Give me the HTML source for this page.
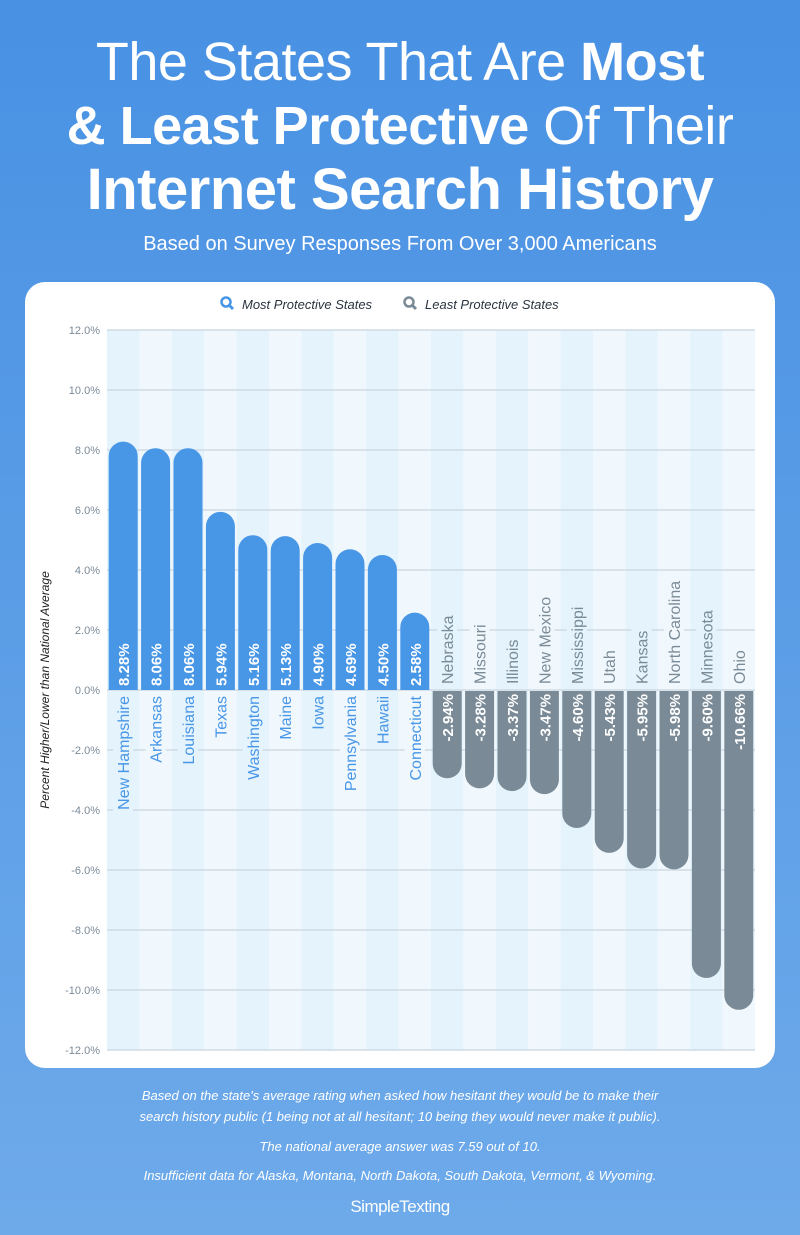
<!DOCTYPE html>
<html><head><meta charset="utf-8"><style>
body{margin:0;width:800px;height:1235px;overflow:hidden;background:linear-gradient(#4891e3,#6eaaea);font-family:"Liberation Sans",sans-serif;color:#fff;position:relative}
.t{position:absolute;left:0;width:800px;text-align:center}
h1{margin:0;font-weight:400;font-size:54px;line-height:64px;letter-spacing:-0.5px}
#card{position:absolute;left:25px;top:282px;width:750px;height:786px;background:#fff;border-radius:20px}
.foot{font-style:italic;font-size:13px;line-height:21px}
</style></head><body>
<div class="t" style="top:30px"><h1>The States That Are <b>Most</b><br><b>&amp; Least Protective</b> Of Their<br><b style="font-size:58px">Internet Search History</b></h1></div>
<div class="t" style="top:233px;font-size:20px">Based on Survey Responses From Over 3,000 Americans</div>
<div id="card"></div>
<svg id="chart" width="800" height="1235" style="position:absolute;left:0;top:0"></svg>
<div class="t foot" style="top:1085px">Based on the state's average rating when asked how hesitant they would be to make their<br>search history public (1 being not at all hesitant; 10 being they would never make it public).</div>
<div class="t foot" style="top:1136px">The national average answer was 7.59 out of 10.</div>
<div class="t foot" style="top:1165px">Insufficient data for Alaska, Montana, North Dakota, South Dakota, Vermont, &amp; Wyoming.</div>
<div class="t" style="top:1197px;font-size:17px;letter-spacing:-0.5px">SimpleTexting</div>
<script>
const states=["New Hampshire","Arkansas","Louisiana","Texas","Washington","Maine","Iowa","Pennsylvania","Hawaii","Connecticut","Nebraska","Missouri","Illinois","New Mexico","Mississippi","Utah","Kansas","North Carolina","Minnesota","Ohio"];
const values=[8.28,8.06,8.06,5.94,5.16,5.13,4.90,4.69,4.50,2.58,-2.94,-3.28,-3.37,-3.47,-4.60,-5.43,-5.95,-5.98,-9.60,-10.66];
const ticks=[12,10,8,6,4,2,0,-2,-4,-6,-8,-10,-12];
const NS="http://www.w3.org/2000/svg",svg=document.getElementById('chart');
const x0=107,pitch=32.4,y=v=>690-v*30;
function el(t,a,txt){const e=document.createElementNS(NS,t);for(const k in a)e.setAttribute(k,a[k]);if(txt!=null)e.textContent=txt;svg.appendChild(e);return e;}
states.forEach((s,i)=>{const b=el('rect',{x:x0+i*pitch,y:y(12),width:pitch,height:y(-12)-y(12),fill:i%2?'#f1f8fd':'#e4f3fc'});
});
ticks.forEach(t=>{const l=el('line',{x1:x0,x2:755,y1:y(t),y2:y(t),stroke:'#cfdbe3','stroke-width':1.5});

const tx=el('text',{x:100,y:y(t)+4,'text-anchor':'end','font-size':11,fill:'#7b8b99'},t.toFixed(1)+'%');
});
states.forEach((s,i)=>{const v=values[i],cx=x0+i*pitch+pitch/2,w=29,x=cx-w/2,r=w/2;
const pos=v>0,col=pos?'#4896e6':'#7a8b97';let d;
if(pos){const top=y(v);d=`M${x},690 V${top+r} A${r},${r} 0 0 1 ${x+w},${top+r} V690 Z`;}
else{const bot=y(v);d=`M${x},691 V${bot-r} A${r},${r} 0 0 0 ${x+w},${bot-r} V691 Z`;}
const p=el('path',{d:d,fill:col});
const lab=v.toFixed(2)+'%';
const vy=pos?686:694, sy=pos?696:684;
const name=el('text',{transform:`translate(${cx+6},${sy}) rotate(-90)`,'text-anchor':pos?'end':'start','font-size':16,fill:pos?'#4896e6':'#7a8b97'},s);

const bw=name.getComputedTextLength();const bg=document.createElementNS(NS,'rect');
bg.setAttribute('x',cx-10);bg.setAttribute('width',20);
bg.setAttribute('y',pos?sy-1:sy-bw-2);bg.setAttribute('height',bw+3);
bg.setAttribute('fill',i%2?'#f1f8fd':'#e4f3fc');svg.insertBefore(bg,name);

const val=el('text',{transform:`translate(${cx+6},${vy}) rotate(-90)`,'text-anchor':pos?'start':'end','font-size':15,'font-weight':'bold',fill:'#fff'},lab);
});
const yt=el('text',{transform:'translate(49,690) rotate(-90)','text-anchor':'middle','font-size':12,'font-style':'italic',fill:'#222'},'Percent Higher/Lower than National Average');

[[222,'#4896e6','Most Protective States'],[405,'#7a8b97','Least Protective States']].forEach(([x,c,t])=>{
const g=el('circle',{cx:x+4,cy:302,r:4.5,fill:'none',stroke:c,'stroke-width':2.5});
const ln=el('line',{x1:x+7,y1:305,x2:x+11,y2:309,stroke:c,'stroke-width':3});
const tx=el('text',{x:x+20,y:309,'font-size':13,'font-style':'italic',fill:'#2a3440'},t);});
</script>
</body></html>
